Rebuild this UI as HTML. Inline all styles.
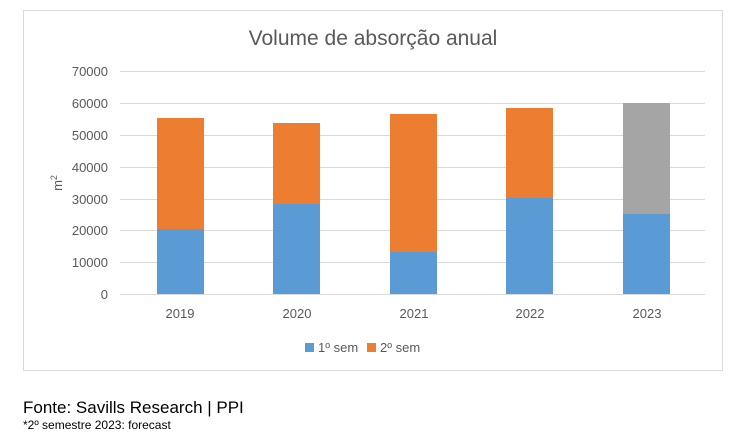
<!DOCTYPE html>
<html><head><style>body{margin:0;background:#fff;}svg{display:block;font-family:"Liberation Sans",sans-serif;}</style></head>
<body>
<svg width="737" height="444" xmlns="http://www.w3.org/2000/svg">
<rect x="23.5" y="10.5" width="699" height="360" fill="#fff" stroke="#d9d9d9"/>
<text x="373" y="45" font-size="21" fill="#595959" text-anchor="middle">Volume de absorção anual</text>
<g stroke="#d9d9d9" stroke-width="1">
<line x1="120" x2="705" y1="71.5" y2="71.5"/><line x1="120" x2="705" y1="103.5" y2="103.5"/>
<line x1="120" x2="705" y1="135.5" y2="135.5"/><line x1="120" x2="705" y1="167.5" y2="167.5"/>
<line x1="120" x2="705" y1="199.5" y2="199.5"/><line x1="120" x2="705" y1="230.5" y2="230.5"/>
<line x1="120" x2="705" y1="262.5" y2="262.5"/><line x1="120" x2="705" y1="294.5" y2="294.5"/>
</g>
<g font-size="13" fill="#595959" text-anchor="end">
<text x="108" y="76">70000</text><text x="108" y="108">60000</text><text x="108" y="140">50000</text>
<text x="108" y="172">40000</text><text x="108" y="204">30000</text><text x="108" y="235">20000</text>
<text x="108" y="267">10000</text><text x="108" y="299">0</text>
</g>
<text transform="translate(62,183) rotate(-90)" font-size="13" fill="#595959" text-anchor="middle">m<tspan dy="-5" font-size="9">2</tspan></text>
<g>
<rect x="157" y="118" width="47" height="111" fill="#ed7d31"/><rect x="157" y="229" width="47" height="65" fill="#5b9bd5"/>
<rect x="273" y="123" width="47" height="81" fill="#ed7d31"/><rect x="273" y="204" width="47" height="90" fill="#5b9bd5"/>
<rect x="390" y="114" width="47" height="138" fill="#ed7d31"/><rect x="390" y="252" width="47" height="42" fill="#5b9bd5"/>
<rect x="506" y="108" width="47" height="90" fill="#ed7d31"/><rect x="506" y="198" width="47" height="96" fill="#5b9bd5"/>
<rect x="623" y="103" width="47" height="111" fill="#a5a5a5"/><rect x="623" y="214" width="47" height="80" fill="#5b9bd5"/>
</g>
<g font-size="13" fill="#595959" text-anchor="middle">
<text x="180" y="318">2019</text><text x="297" y="318">2020</text><text x="414" y="318">2021</text>
<text x="530" y="318">2022</text><text x="647" y="318">2023</text>
</g>
<rect x="305" y="343" width="9" height="9" fill="#5b9bd5"/>
<text x="318" y="352" font-size="13" fill="#595959">1º sem</text>
<rect x="367" y="343" width="9" height="9" fill="#ed7d31"/>
<text x="380" y="352" font-size="13" fill="#595959">2º sem</text>
<text x="23" y="413" font-size="17" fill="#000">Fonte: Savills Research | PPI</text>
<text x="23" y="429" font-size="12" fill="#000">*2º semestre 2023: forecast</text>
</svg>
</body></html>
